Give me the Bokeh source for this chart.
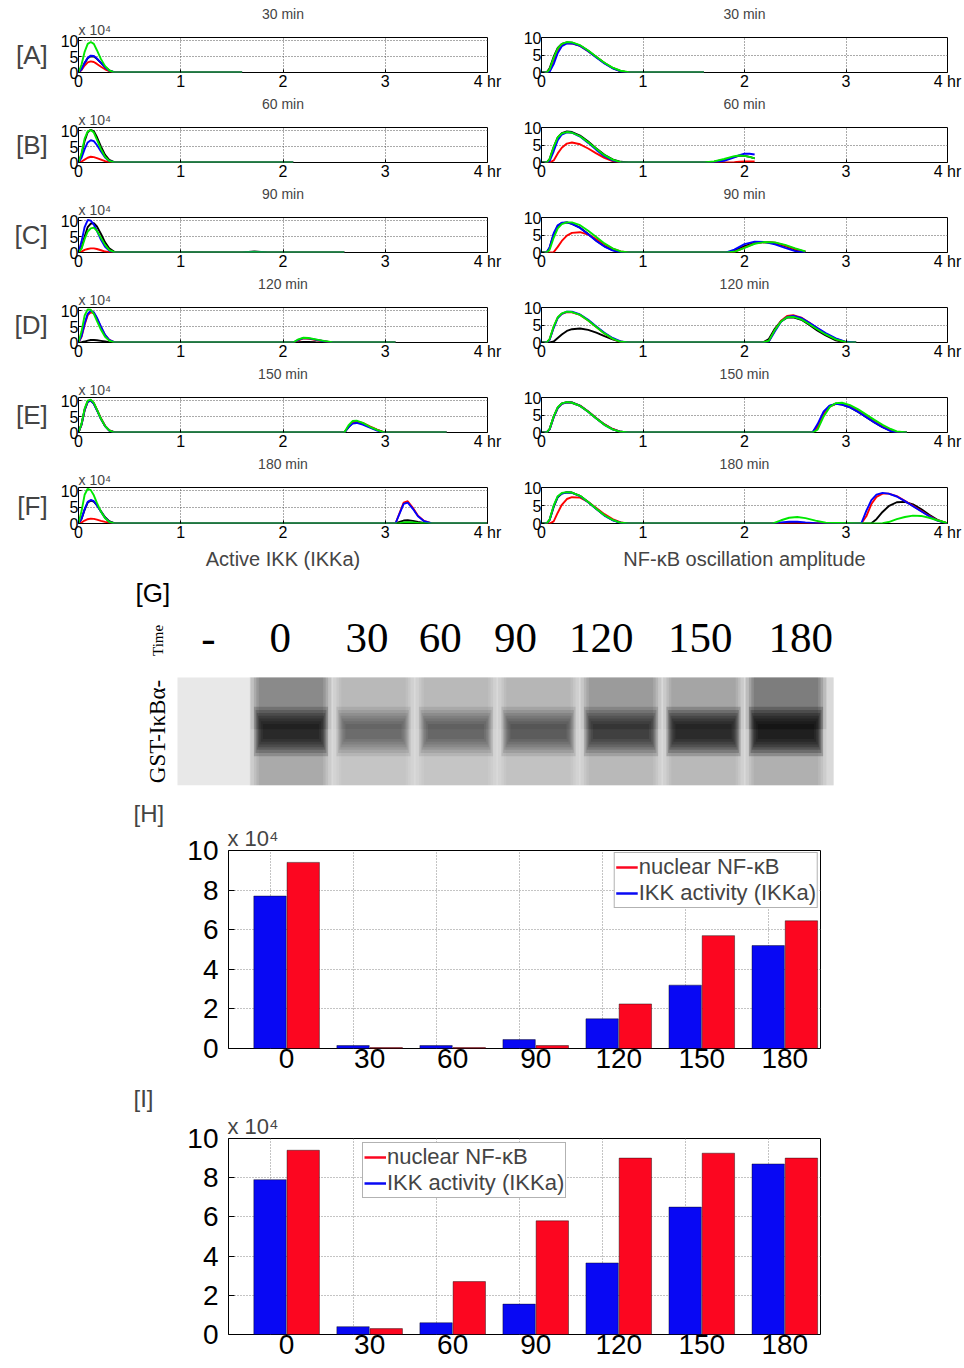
import numpy as np
from bokeh.plotting import figure
from bokeh.models import Range1d, FixedTicker, Legend, LegendItem, Title
from bokeh.layouts import column, row
from bokeh.embed import file_html
from bokeh.resources import INLINE
from bokeh.core.properties import value

# ---------------- data: Active IKK (x 10^4), left column ----------------
IKK_A_t = [0, 0.03, 0.06, 0.09, 0.12, 0.15, 0.18, 0.22, 0.26, 0.30, 0.35, 1.6]
IKK_A_black = [0, 1.0, 3.0, 4.5, 5.1, 5.0, 4.3, 3.0, 1.7, 0.7, 0.1, 0]
IKK_A_red = [0, 0.8, 2.2, 3.2, 3.5, 3.3, 2.7, 1.8, 1.0, 0.4, 0, 0]
IKK_A_blue = [0, 1.0, 3.0, 4.6, 5.3, 5.2, 4.4, 3.0, 1.6, 0.6, 0, 0]
IKK_A_green = [0, 2.5, 6.5, 9.0, 9.6, 9.0, 7.0, 4.2, 2.0, 0.7, 0, 0]

IKK_B_t = [0, 0.03, 0.06, 0.09, 0.12, 0.15, 0.18, 0.22, 0.26, 0.30, 0.35, 2.1]
IKK_B_black = [0, 2.5, 6.8, 9.5, 10.3, 9.8, 8.0, 5.0, 2.4, 0.8, 0.1, 0]
IKK_B_red = [0, 0.3, 0.9, 1.5, 1.8, 1.7, 1.4, 0.9, 0.4, 0.1, 0, 0]
IKK_B_blue = [0, 1.5, 4.2, 6.3, 7.0, 6.7, 5.5, 3.5, 1.6, 0.5, 0, 0]
IKK_B_green = [0, 3.0, 7.5, 9.8, 10.2, 9.4, 7.2, 4.2, 1.8, 0.5, 0, 0]

IKK_C_t = [0, 0.03, 0.06, 0.09, 0.12, 0.15, 0.18, 0.22, 0.26, 0.30, 0.35, 1.6, 1.72, 1.85, 2.6]
IKK_C_black = [0, 1.5, 5.0, 8.0, 9.1, 9.2, 8.2, 5.8, 3.2, 1.3, 0.2, 0, 0.3, 0, 0]
IKK_C_red = [0, 0.3, 0.8, 1.1, 1.3, 1.3, 1.1, 0.7, 0.3, 0.1, 0, 0, 0, 0, 0]
IKK_C_blue = [0, 3.5, 8.0, 10.2, 10.0, 8.8, 6.8, 4.0, 1.8, 0.6, 0, 0, 0.2, 0, 0]
IKK_C_green = [0, 1.2, 4.2, 6.6, 7.6, 7.8, 6.8, 4.6, 2.4, 0.8, 0.1, 0, 0.1, 0, 0]

IKK_D_t = [0, 0.03, 0.06, 0.09, 0.12, 0.15, 0.18, 0.22, 0.26, 0.30, 0.35,
           2.1, 2.15, 2.2, 2.25, 2.32, 2.4, 2.48, 3.1]
IKK_D_black = [0, 0.1, 0.3, 0.6, 0.8, 0.8, 0.7, 0.5, 0.3, 0.1, 0, 0, 0.1, 0.2, 0.2, 0.1, 0, 0, 0]
IKK_D_red = [0, 1.8, 5.6, 8.6, 9.5, 9.2, 7.6, 4.8, 2.3, 0.8, 0.1, 0, 0.7, 1.3, 1.2, 0.8, 0.4, 0, 0]
IKK_D_blue = [0, 2.0, 6.0, 9.0, 10.0, 9.5, 7.8, 5.0, 2.4, 0.8, 0.1, 0, 0.8, 1.4, 1.3, 0.9, 0.4, 0, 0]
IKK_D_green = [0, 3.5, 8.5, 10.4, 10.3, 9.0, 6.8, 4.0, 1.8, 0.6, 0, 0, 1.0, 1.5, 1.4, 1.0, 0.5, 0.1, 0]

IKK_E_t = [0, 0.03, 0.06, 0.09, 0.12, 0.15, 0.18, 0.22, 0.26, 0.30, 0.35,
           2.6, 2.64, 2.68, 2.72, 2.78, 2.85, 2.92, 2.98, 3.6]
IKK_E_black = [0, 2.5, 7.0, 9.6, 10.0, 9.1, 7.1, 4.3, 2.0, 0.7, 0.1, 0, 1.7, 3.0, 3.3, 2.8, 1.7, 0.8, 0.1, 0]
IKK_E_red = [0, 2.6, 7.2, 9.8, 10.1, 9.2, 7.2, 4.4, 2.1, 0.7, 0.1, 0, 1.8, 3.2, 3.5, 3.0, 1.9, 0.9, 0.2, 0]
IKK_E_blue = [0, 2.6, 7.2, 9.7, 10.0, 9.0, 7.0, 4.2, 2.0, 0.6, 0, 0, 1.6, 2.8, 3.0, 2.5, 1.5, 0.6, 0.1, 0]
IKK_E_green = [0, 2.8, 7.5, 10.0, 10.3, 9.3, 7.2, 4.3, 2.0, 0.7, 0, 0, 2.2, 3.6, 3.7, 3.0, 1.8, 0.8, 0.1, 0]

IKK_F_t = [0, 0.03, 0.06, 0.09, 0.12, 0.15, 0.18, 0.22, 0.26, 0.30, 0.35,
           3.1, 3.14, 3.18, 3.22, 3.27, 3.32, 3.38, 3.45, 4.0]
IKK_F_black = [0, 1.4, 4.2, 6.4, 7.0, 6.7, 5.6, 3.7, 1.9, 0.7, 0.1, 0, 0.5, 0.9, 1.0, 0.8, 0.5, 0.2, 0, 0]
IKK_F_red = [0, 0.3, 0.9, 1.3, 1.5, 1.4, 1.2, 0.8, 0.5, 0.3, 0.1, 0, 3.2, 6.4, 6.8, 4.8, 2.4, 0.8, 0.1, 0]
IKK_F_blue = [0, 1.5, 4.4, 6.6, 7.2, 6.8, 5.6, 3.6, 1.7, 0.5, 0, 0, 3.0, 6.0, 6.4, 4.5, 2.2, 0.7, 0.1, 0]
IKK_F_green = [0, 3.8, 8.8, 10.6, 10.2, 8.6, 6.3, 3.6, 1.6, 0.5, 0, 0, 0.1, 0.3, 0.4, 0.3, 0.2, 0.1, 0, 0]

# ---------------- data: NF-kB oscillation amplitude, right column ----------------
NF_A_t = [0, 0.05, 0.08, 0.12, 0.16, 0.2, 0.25, 0.3, 0.38, 0.46, 0.54, 0.62, 0.7, 0.78, 0.86, 0.92, 1.6]
NF_A_black = [0, 0, 1.2, 4.5, 7.0, 8.2, 8.6, 8.5, 7.7, 6.2, 4.4, 2.7, 1.3, 0.4, 0.05, 0, 0]
NF_A_red = [0, 0, 0.6, 3.6, 6.4, 7.8, 8.4, 8.3, 7.6, 6.1, 4.4, 2.7, 1.3, 0.4, 0.05, 0, 0]
NF_A_blue = [0, 0, 0.2, 2.4, 5.6, 7.5, 8.3, 8.3, 7.6, 6.1, 4.3, 2.6, 1.2, 0.3, 0, 0, 0]
NF_A_green = [0, 0, 0.9, 4.2, 6.9, 8.2, 8.7, 8.6, 7.8, 6.3, 4.5, 2.8, 1.4, 0.5, 0.1, 0, 0]

NF_B_t = [0, 0.05, 0.08, 0.12, 0.16, 0.2, 0.25, 0.3, 0.38, 0.46, 0.54, 0.62, 0.7, 0.78, 0.86,
          1.6, 1.7, 1.8, 1.9, 1.95, 2.0, 2.05, 2.1]
NF_B_black = [0, 0, 1.0, 4.4, 7.2, 8.4, 8.9, 8.7, 7.7, 6.0, 4.0, 2.2, 0.9, 0.2, 0,
              0, 0.2, 0.8, 1.6, 1.9, 1.9, 1.6, 1.2]
NF_B_red = [0, 0, 0, 0.6, 2.6, 4.2, 5.4, 5.7, 5.2, 4.0, 2.6, 1.3, 0.4, 0, 0,
            0, 0, 0, 0.1, 0.2, 0.3, 0.3, 0.3]
NF_B_blue = [0, 0, 0.4, 3.2, 6.4, 8.0, 8.6, 8.5, 7.4, 5.6, 3.6, 1.8, 0.6, 0.05, 0,
             0, 0.1, 0.5, 1.5, 2.1, 2.5, 2.5, 2.3]
NF_B_green = [0, 0, 1.0, 4.5, 7.2, 8.3, 8.7, 8.5, 7.5, 5.8, 3.9, 2.1, 0.8, 0.1, 0,
              0, 0.3, 1.0, 1.8, 2.0, 1.9, 1.6, 1.2]

NF_C_t = [0, 0.05, 0.08, 0.12, 0.16, 0.2, 0.25, 0.3, 0.38, 0.46, 0.54, 0.62, 0.7, 0.78, 0.86,
          1.82, 1.9, 2.0, 2.1, 2.2, 2.3, 2.4, 2.5, 2.6]
NF_C_black = [0, 0, 1.3, 5.2, 7.6, 8.4, 8.6, 8.2, 7.1, 5.3, 3.4, 1.8, 0.7, 0.1, 0,
              0, 0.4, 1.8, 2.8, 3.0, 2.7, 1.8, 0.8, 0.2]
NF_C_red = [0, 0, 0, 0.1, 1.6, 3.3, 4.8, 5.6, 5.8, 5.1, 3.8, 2.4, 1.1, 0.3, 0,
            0, 0.2, 1.4, 2.6, 3.0, 2.8, 2.0, 1.0, 0.2]
NF_C_blue = [0, 0, 1.5, 5.5, 7.8, 8.5, 8.6, 8.2, 7.0, 5.2, 3.3, 1.7, 0.6, 0.05, 0,
             0, 0.8, 2.4, 3.1, 3.0, 2.3, 1.3, 0.4, 0]
NF_C_green = [0, 0, 0.8, 4.2, 6.9, 8.1, 8.6, 8.6, 7.8, 6.2, 4.4, 2.6, 1.2, 0.3, 0,
              0, 0.2, 1.3, 2.5, 3.0, 2.9, 2.2, 1.2, 0.3]

NF_D_t = [0, 0.05, 0.08, 0.12, 0.16, 0.2, 0.25, 0.3, 0.38, 0.46, 0.54, 0.62, 0.7, 0.78, 0.86,
          2.18, 2.24, 2.3, 2.36, 2.42, 2.48, 2.56, 2.64, 2.72, 2.8, 2.9, 3.0, 3.1]
NF_D_black = [0, 0, 0, 0.3, 1.3, 2.3, 3.3, 3.8, 4.0, 3.6, 2.8, 1.8, 0.9, 0.2, 0,
              0, 1.0, 4.0, 6.1, 7.1, 7.2, 6.5, 5.0, 3.4, 2.0, 0.6, 0, 0]
NF_D_red = [0, 0, 0.9, 4.4, 7.1, 8.2, 8.7, 8.6, 7.9, 6.3, 4.4, 2.6, 1.1, 0.2, 0,
            0, 0.4, 3.5, 6.2, 7.6, 7.8, 7.1, 5.6, 4.0, 2.5, 1.0, 0.1, 0]
NF_D_blue = [0, 0, 0.8, 4.2, 7.0, 8.2, 8.8, 8.8, 8.0, 6.5, 4.6, 2.8, 1.3, 0.3, 0,
             0, 0.3, 3.2, 5.9, 7.3, 7.6, 7.0, 5.6, 4.1, 2.7, 1.2, 0.2, 0]
NF_D_green = [0, 0, 1.0, 4.6, 7.2, 8.3, 8.8, 8.7, 7.9, 6.3, 4.4, 2.6, 1.1, 0.2, 0,
              0, 0.5, 3.6, 6.0, 7.2, 7.3, 6.6, 5.2, 3.7, 2.3, 0.9, 0.1, 0]

NF_E_t = [0, 0.05, 0.08, 0.12, 0.16, 0.2, 0.25, 0.3, 0.38, 0.46, 0.54, 0.62, 0.7, 0.78, 0.86,
          2.67, 2.72, 2.78, 2.84, 2.9, 2.96, 3.04, 3.12, 3.2, 3.28, 3.36, 3.44, 3.5, 3.6]
NF_E_black = [0, 0, 1.0, 4.5, 7.1, 8.3, 8.7, 8.6, 7.7, 6.0, 4.1, 2.3, 1.0, 0.2, 0,
              0, 1.8, 5.6, 7.6, 8.2, 8.0, 7.2, 5.9, 4.4, 2.9, 1.5, 0.5, 0, 0]
NF_E_red = [0, 0, 0.9, 4.4, 7.0, 8.2, 8.6, 8.5, 7.6, 6.0, 4.1, 2.3, 1.0, 0.2, 0,
            0, 1.5, 5.2, 7.4, 8.2, 8.1, 7.4, 6.1, 4.6, 3.1, 1.7, 0.6, 0.1, 0]
NF_E_blue = [0, 0, 0.9, 4.4, 7.0, 8.2, 8.6, 8.5, 7.6, 5.9, 4.0, 2.2, 0.9, 0.2, 0,
             0, 2.4, 6.0, 7.7, 8.2, 8.0, 7.2, 5.9, 4.4, 2.9, 1.5, 0.4, 0, 0]
NF_E_green = [0, 0, 1.0, 4.6, 7.2, 8.3, 8.7, 8.5, 7.6, 5.9, 4.0, 2.2, 0.9, 0.2, 0,
              0, 0.8, 4.6, 7.3, 8.4, 8.5, 7.8, 6.6, 5.1, 3.6, 2.2, 1.0, 0.3, 0]

NF_F_t = [0, 0.05, 0.08, 0.12, 0.16, 0.2, 0.25, 0.3, 0.38, 0.46, 0.54, 0.62, 0.7, 0.78, 0.86,
          2.28, 2.36, 2.44, 2.52, 2.6, 2.7, 2.8,
          3.15, 3.2, 3.25, 3.3, 3.36, 3.42, 3.5, 3.58, 3.66, 3.74, 3.82, 3.9, 4.0]
NF_F_black = [0, 0, 1.0, 4.6, 7.3, 8.3, 8.7, 8.6, 7.7, 6.0, 4.1, 2.3, 1.0, 0.2, 0,
              0, 0.1, 0.2, 0.2, 0.1, 0, 0,
              0, 0, 0.1, 1.2, 3.2, 4.8, 5.9, 6.0, 5.3, 4.0, 2.4, 1.0, 0]
NF_F_red = [0, 0, 0, 0.6, 3.0, 5.2, 6.8, 7.3, 7.2, 6.0, 4.3, 2.6, 1.2, 0.3, 0,
            0, 0, 0, 0, 0, 0, 0,
            0, 2.0, 5.4, 7.4, 8.3, 8.3, 7.6, 6.3, 4.9, 3.5, 2.1, 0.9, 0]
NF_F_blue = [0, 0, 1.0, 4.8, 7.4, 8.3, 8.6, 8.5, 7.6, 5.9, 4.0, 2.2, 0.9, 0.2, 0,
             0, 0.3, 0.5, 0.5, 0.3, 0.1, 0,
             0, 3.5, 6.5, 8.0, 8.5, 8.3, 7.5, 6.2, 4.8, 3.4, 2.0, 0.8, 0]
NF_F_green = [0, 0, 1.1, 5.0, 7.6, 8.5, 8.7, 8.6, 7.7, 6.0, 4.1, 2.3, 1.0, 0.2, 0,
              0, 0.9, 1.6, 1.8, 1.5, 0.8, 0.2,
              0, 0, 0, 0, 0.1, 0.4, 1.2, 1.8, 2.2, 2.1, 1.6, 0.9, 0.1]

PANEL_TITLES = ["30 min", "60 min", "90 min", "120 min", "150 min", "180 min"]
PANEL_LETTERS = ["[A]", "[B]", "[C]", "[D]", "[E]", "[F]"]
HOUR_TICKS = [0, 1, 2, 3, 4]

# ---------------- data: gel [G] ----------------
GEL_LANES = ["-", "0", "30", "60", "90", "120", "150", "180"]
GEL_BAND = [0.0, 0.82, 0.36, 0.40, 0.45, 0.62, 0.84, 0.98]
GEL_SMEAR_TOP = [0.0, 0.36, 0.13, 0.13, 0.14, 0.28, 0.22, 0.44]
GEL_SMEAR_BOTTOM = [0.0, 0.20, 0.08, 0.08, 0.09, 0.13, 0.13, 0.17]

# ---------------- data: bar charts [H], [I] (x 10^4) ----------------
BAR_TIMES = ["0", "30", "60", "90", "120", "150", "180"]
H_IKK = [7.7, 0.15, 0.15, 0.45, 1.5, 3.2, 5.2]
H_NFKB = [9.4, 0.05, 0.05, 0.15, 2.25, 5.7, 6.45]
I_IKK = [7.9, 0.4, 0.6, 1.55, 3.65, 6.5, 8.7]
I_NFKB = [9.4, 0.3, 2.7, 5.8, 9.0, 9.25, 9.0]

# ---------------- styling ----------------
SANS = "Liberation Sans"
SERIF = "Liberation Serif"
LINE_COLORS = ["#000000", "#ff0000", "#0000ff", "#00e800"]
BAR_BLUE = "#0808f4"
BAR_RED = "#fc0620"
GRID_COLOR = "#555555"

IKK_SETS = [
    (IKK_A_t, IKK_A_black, IKK_A_red, IKK_A_blue, IKK_A_green),
    (IKK_B_t, IKK_B_black, IKK_B_red, IKK_B_blue, IKK_B_green),
    (IKK_C_t, IKK_C_black, IKK_C_red, IKK_C_blue, IKK_C_green),
    (IKK_D_t, IKK_D_black, IKK_D_red, IKK_D_blue, IKK_D_green),
    (IKK_E_t, IKK_E_black, IKK_E_red, IKK_E_blue, IKK_E_green),
    (IKK_F_t, IKK_F_black, IKK_F_red, IKK_F_blue, IKK_F_green),
]
NF_SETS = [
    (NF_A_t, NF_A_black, NF_A_red, NF_A_blue, NF_A_green),
    (NF_B_t, NF_B_black, NF_B_red, NF_B_blue, NF_B_green),
    (NF_C_t, NF_C_black, NF_C_red, NF_C_blue, NF_C_green),
    (NF_D_t, NF_D_black, NF_D_red, NF_D_blue, NF_D_green),
    (NF_E_t, NF_E_black, NF_E_red, NF_E_blue, NF_E_green),
    (NF_F_t, NF_F_black, NF_F_red, NF_F_blue, NF_F_green),
]


def small_panel(series, title, letter, left, first, last):
    t = series[0]
    w = 505 if left else 459
    top = 37 if first else 35
    frame_h = 36
    bottom = 49 if last else 19
    ymax = 11 if left else 10
    p = figure(width=w, height=top + frame_h + bottom,
               x_range=Range1d(0, 4), y_range=Range1d(0, ymax),
               min_border_left=78 if left else 36, min_border_right=18 if left else 17,
               min_border_top=top, min_border_bottom=bottom, title=title,
               output_backend="svg", toolbar_location=None)
    p.title.align = "center"
    p.title.text_font = SANS
    p.title.text_font_size = "14px"
    p.title.text_font_style = "normal"
    p.title.standoff = -4
    p.outline_line_color = "black"
    p.outline_line_width = 1
    p.outline_line_alpha = 1
    p.xaxis.ticker = FixedTicker(ticks=HOUR_TICKS)
    p.xaxis.major_label_overrides = {4: "4 hr"}
    p.yaxis.ticker = FixedTicker(ticks=[0, 5, 10])
    p.axis.axis_line_color = None
    p.axis.major_tick_in = 3
    p.axis.major_tick_out = 0
    p.axis.minor_tick_line_color = None
    p.axis.major_label_text_font = SANS
    p.axis.major_label_text_font_size = "16px"
    p.axis.major_label_text_color = "black"
    p.axis.major_label_standoff = 0
    p.xgrid.ticker = FixedTicker(ticks=[1, 2, 3])
    p.ygrid.ticker = FixedTicker(ticks=[5, 10])
    p.grid.grid_line_color = GRID_COLOR
    p.grid.grid_line_dash = "1 2"
    p.grid.grid_line_width = 1
    for y, c in zip(series[1:], LINE_COLORS):
        p.line(t, y, line_color=c, line_width=1.9)
    # multiplier line above the frame (blank placeholder on the right column keeps titles level)
    p.add_layout(Title(text="x 10⁴" if left else " ", align="left", offset=0, standoff=0,
                       text_font=SANS, text_font_size="14px", text_font_style="normal"),
                 "above")
    if left:
        p.yaxis.axis_label = letter
        p.yaxis.axis_label_orientation = "horizontal"
        p.yaxis.axis_label_standoff = 10
        p.yaxis.axis_label_text_font = SANS
        p.yaxis.axis_label_text_font_size = "26px"
        p.yaxis.axis_label_text_font_style = "normal"
    if last:
        p.xaxis.axis_label = "Active IKK (IKKa)" if left else "NF-κB oscillation amplitude"
        p.xaxis.axis_label_text_font = SANS
        p.xaxis.axis_label_text_font_size = "20px"
        p.xaxis.axis_label_text_font_style = "normal"
        p.xaxis.axis_label_standoff = 4
    return p


rows = []
for i in range(6):
    pl = small_panel(IKK_SETS[i], PANEL_TITLES[i], PANEL_LETTERS[i], True, i == 0, i == 5)
    pr = small_panel(NF_SETS[i], PANEL_TITLES[i], PANEL_LETTERS[i], False, i == 0, i == 5)
    rows.append(row(pl, pr))

# ---------------- gel [G] ----------------
GEL_PAD_LEFT, GEL_PAD_RIGHT = 0.376, 0.576
lane_x = np.arange(len(GEL_LANES))
gel = figure(width=964, height=220, x_range=Range1d(-0.9455, 7.782), y_range=Range1d(0, 1.944),
             min_border_left=130, min_border_right=114, min_border_top=3, min_border_bottom=7,
             x_axis_location=None, y_axis_location=None,
             output_backend="svg", toolbar_location=None)
gel.outline_line_color = None
gel.xgrid.visible = False
gel.ygrid.visible = False
gel.quad(left=lane_x[0] - GEL_PAD_LEFT, right=lane_x[-1] + GEL_PAD_RIGHT, bottom=0, top=1,
         fill_color="#e8e8e8", line_color=None)
gel.quad(left=lane_x[0] + 0.5, right=lane_x[-1] + GEL_PAD_RIGHT, bottom=0, top=1,
         fill_color="#d9d9d9", line_color=None)
for w_, k in ((0.98, 0.3), (0.9, 0.3), (0.84, 0.3), (0.78, 0.25)):
    gel.rect(x=lane_x, y=0.76, width=w_, height=0.48, fill_color="black",
             fill_alpha=[s * k for s in GEL_SMEAR_TOP], line_color=None)
    gel.rect(x=lane_x, y=0.26, width=w_, height=0.52, fill_color="black",
             fill_alpha=[s * k for s in GEL_SMEAR_BOTTOM], line_color=None)
for w_, h_ in ((0.9, 0.46), (0.86, 0.40), (0.83, 0.34), (0.8, 0.29), (0.77, 0.24),
               (0.73, 0.19), (0.68, 0.14)):
    gel.rect(x=lane_x, y=0.5, width=w_, height=h_, fill_color="black",
             fill_alpha=[b * 0.22 for b in GEL_BAND], line_color=None)
gel_label_pos = [0.0, 0.87, 1.92, 2.81, 3.72, 4.76, 5.96, 7.18]
gel.text(x=gel_label_pos, y=1.37, text=GEL_LANES, text_align="center", text_baseline="middle",
         text_font=value(SERIF), text_font_size="43px", text_color="black")
gel.text(x=[-0.885], y=[1.778], text=["[G]"], text_align="left", text_baseline="middle",
         text_font=value(SANS), text_font_size="26px", text_color="black")
gel.text(x=[-0.618], y=[1.343], text=["Time"], angle=np.pi / 2, text_align="center",
         text_baseline="middle", text_font=value(SERIF), text_font_size="15px", text_color="black")
gel.text(x=[-0.618], y=[0.5], text=["GST-IκBα-"], angle=np.pi / 2, text_align="center",
         text_baseline="middle", text_font=value(SERIF), text_font_size="23px", text_color="black")


# ---------------- bar charts ----------------
def bar_chart(ikk, nfkb, letter, top, frame_h, bottom, legend_loc, letter_standoff):
    p = figure(width=964, height=top + frame_h + bottom, x_range=Range1d(0.3, 7.43),
               y_range=Range1d(0, 10), title=letter,
               min_border_left=228, min_border_right=144, min_border_top=top,
               min_border_bottom=bottom, output_backend="svg", toolbar_location=None)
    p.title.align = "left"
    p.title.offset = -95
    p.title.standoff = letter_standoff
    p.title.text_font = SANS
    p.title.text_font_size = "24px"
    p.title.text_font_style = "normal"
    p.add_layout(Title(text="x 10⁴", align="left", offset=-1, standoff=0,
                       text_font=SANS, text_font_size="22px", text_font_style="normal"), "above")
    xs = np.arange(1, len(BAR_TIMES) + 1)
    p.vbar(x=xs - 0.2, top=ikk, width=0.39, fill_color=BAR_BLUE,
           line_color="black", line_width=0.6, line_alpha=0.7)
    p.vbar(x=xs + 0.2, top=nfkb, width=0.39, fill_color=BAR_RED,
           line_color="black", line_width=0.6, line_alpha=0.7)
    l_red = p.line(x=[np.nan], y=[np.nan], line_color=BAR_RED, line_width=2.5)
    l_blue = p.line(x=[np.nan], y=[np.nan], line_color=BAR_BLUE, line_width=2.5)
    p.outline_line_color = "black"
    p.outline_line_alpha = 1
    p.xaxis.ticker = FixedTicker(ticks=list(range(1, len(BAR_TIMES) + 1)))
    p.xaxis.major_label_overrides = {i + 1: lab for i, lab in enumerate(BAR_TIMES)}
    p.yaxis.ticker = FixedTicker(ticks=[0, 2, 4, 6, 8, 10])
    p.axis.axis_line_color = None
    p.axis.minor_tick_line_color = None
    p.axis.major_tick_out = 0
    p.xaxis.major_tick_in = 0
    p.yaxis.major_tick_in = 6
    p.axis.major_label_text_font = SANS
    p.axis.major_label_text_font_size = "28px"
    p.axis.major_label_text_color = "black"
    p.xaxis.major_label_standoff = 0
    p.yaxis.major_label_standoff = 10
    p.xgrid.ticker = FixedTicker(ticks=[x - 0.2 for x in range(1, len(BAR_TIMES) + 1)])
    p.ygrid.ticker = FixedTicker(ticks=[2, 4, 6, 8])
    p.grid.grid_line_color = "#888888"
    p.grid.grid_line_dash = "1 2"
    leg = Legend(items=[LegendItem(label="nuclear NF-κB", renderers=[l_red]),
                        LegendItem(label="IKK activity (IKKa)", renderers=[l_blue])],
                 location=legend_loc, margin=2, padding=1, spacing=0,
                 glyph_width=22, glyph_height=22, label_height=22, label_standoff=1,
                 label_text_font=SANS, label_text_font_size="22px",
                 border_line_color="#666666", border_line_width=1,
                 background_fill_color="white", background_fill_alpha=1)
    p.add_layout(leg)
    return p


h_chart = bar_chart(H_IKK, H_NFKB, "[H]", 58, 198, 33, "top_right", -6)
i_chart = bar_chart(I_IKK, I_NFKB, "[I]", 57, 196, 34, (134, 136), 0)

layout = column(*rows, row(gel), h_chart, i_chart)
open("out.html", "w").write(file_html(layout, INLINE))
